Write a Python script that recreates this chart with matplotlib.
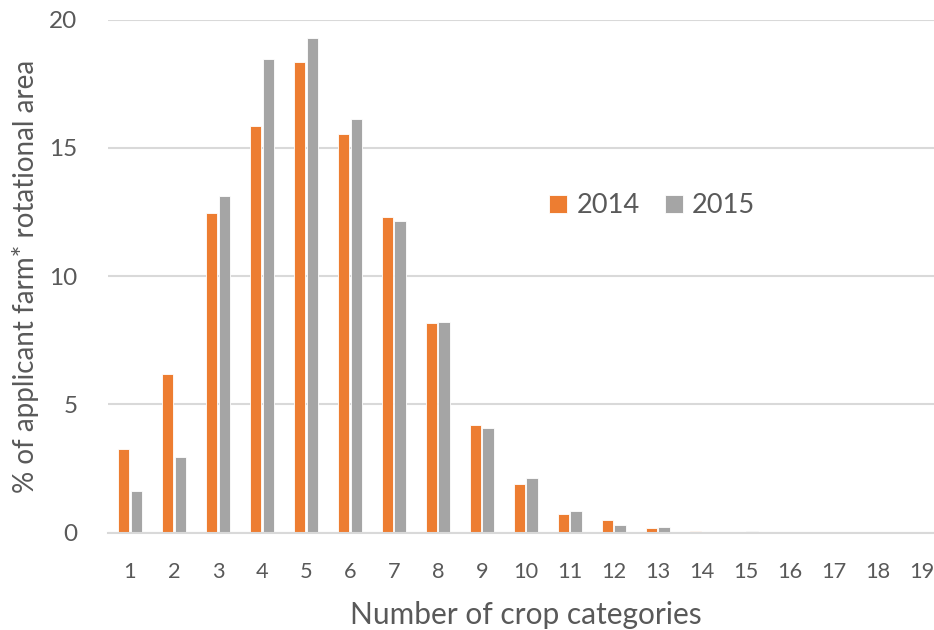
import numpy as np
import matplotlib
matplotlib.use("Agg")
import matplotlib.pyplot as plt

categories = [str(i) for i in range(1, 20)]
share_2014 = [3.25, 6.20, 12.46, 15.84, 18.36, 15.53, 12.30, 8.16, 4.21,
              1.91, 0.72, 0.48, 0.20, 0.05, 0.03, 0.04, 0.0, 0.0, 0.0]
share_2015 = [1.61, 2.96, 13.11, 18.47, 19.28, 16.12, 12.15, 8.21, 4.08,
              2.13, 0.86, 0.32, 0.23, 0.02, 0.08, 0.03, 0.0, 0.0, 0.03]

plt.rcParams['font.family'] = ['Lato', 'DejaVu Sans']
txt = '#595959'

fig = plt.figure(figsize=(9.34, 6.3), dpi=100)
ax = fig.add_axes([0.1156, 0.1544, 0.895, 0.8146])

x = np.arange(len(categories))
w = 0.255
ax.bar(x - 0.14, share_2014, w, color='#ED7D31', edgecolor='white', linewidth=0.6, label='2014', zorder=3)
ax.bar(x + 0.14, share_2015, w, color='#A5A5A5', edgecolor='white', linewidth=0.6, label='2015', zorder=3)

ax.set_xlim(-0.5, len(categories) - 0.5)
ax.set_ylim(0, 20)
ax.set_yticks([0, 5, 10, 15, 20])
ax.set_xticks(x)
ax.set_xticklabels(categories)
ax.yaxis.grid(True, color='#d9d9d9', linewidth=1.5, zorder=0)
for s in ['top', 'right', 'left']:
    ax.spines[s].set_visible(False)
ax.spines['bottom'].set_color('#d9d9d9')
ax.spines['bottom'].set_linewidth(1.5)
ax.spines['bottom'].set_zorder(4)
ax.tick_params(axis='both', length=0, colors=txt)
ax.tick_params(axis='x', labelsize=15.7, pad=21)
ax.tick_params(axis='y', labelsize=17.5, pad=22)

ax.set_xlabel('Number of crop categories', fontsize=21.5, color=txt, labelpad=14)
ax.set_ylabel('% of applicant farm* rotational area', fontsize=20, color=txt, labelpad=7)

ax.legend(loc='center', bbox_to_anchor=(0.651, 0.637), ncol=2, frameon=False,
          fontsize=19.6, labelcolor=txt, handlelength=0.66, handleheight=0.66,
          handletextpad=0.33, columnspacing=0.92)

fig.savefig('out.png', dpi=100)
